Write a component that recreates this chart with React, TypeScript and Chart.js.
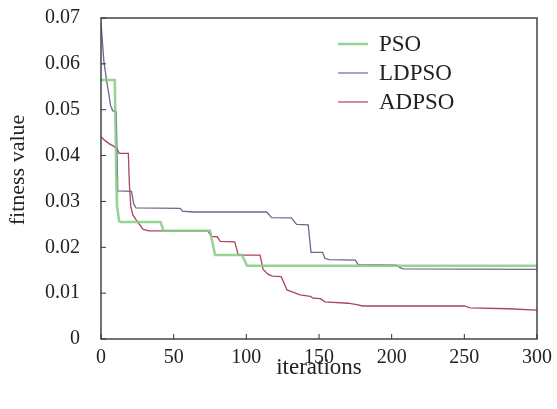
import React, { useEffect, useRef } from "react";
import { Chart, registerables } from "chart.js";

Chart.register(...registerables);

const xTicks = [0, 50, 100, 150, 200, 250, 300];
const yTicks = [0, 0.01, 0.02, 0.03, 0.04, 0.05, 0.06, 0.07];

const seriesNames = ["PSO", "LDPSO", "ADPSO"];

const psoIter = [0, 9.5, 10.5, 11, 12.5, 13.5, 41, 43, 75, 78.5, 97, 100.5, 300];
const psoFit = [0.0565, 0.0565, 0.035, 0.029, 0.0257, 0.0255, 0.0255, 0.0236, 0.0236, 0.0183, 0.0183, 0.016, 0.016];

const ldpsoIter = [0, 2, 4, 5.5, 6.5, 8, 10.5, 11.5, 21, 22.5, 24, 54.5, 56, 63, 114, 117.4, 131, 134.6, 142.6, 144.5, 152.5, 154, 157, 175, 177, 203.5, 206, 208, 300];
const ldpsoFit = [0.069, 0.0605, 0.056, 0.0532, 0.051, 0.0498, 0.0495, 0.0323, 0.0322, 0.0295, 0.0286, 0.0285, 0.0279, 0.0277, 0.0277, 0.02645, 0.0264, 0.025, 0.0249, 0.0189, 0.0189, 0.0176, 0.0173, 0.0172, 0.0162, 0.0161, 0.0155, 0.0153, 0.0152];

const adpsoIter = [0, 3, 6, 9, 11, 12.5, 18.8, 19.5, 20.5, 22, 25, 29, 33, 73.5, 76, 80, 82, 92, 94.5, 109.5, 111.5, 115, 118, 124, 128, 132, 137, 144, 146, 151, 154, 170, 176, 180, 250, 254, 280, 300];
const adpsoFit = [0.0441, 0.0432, 0.0425, 0.042, 0.0415, 0.0405, 0.0405, 0.034, 0.0288, 0.027, 0.0256, 0.0239, 0.0236, 0.0236, 0.0224, 0.0223, 0.0213, 0.0212, 0.0183, 0.0183, 0.0152, 0.0141, 0.0137, 0.0136, 0.0107, 0.0102, 0.0096, 0.0093, 0.0089, 0.0088, 0.0081, 0.0078, 0.0075, 0.0072, 0.0072, 0.0068, 0.0066, 0.0063];

const toPoints = (xs: number[], ys: number[]) => xs.map((x, i) => ({ x, y: ys[i] }));

const FONT = "'Liberation Serif', 'Times New Roman', serif";

const decorPlugin = {
  id: "decor",
  afterDatasetsDraw(chart: any) {
    const { ctx, chartArea: a, scales } = chart;
    ctx.save();
    ctx.strokeStyle = "#444";
    ctx.lineWidth = 1.5;
    ctx.strokeRect(a.left, a.top, a.right - a.left, a.bottom - a.top);
    ctx.lineWidth = 1;
    ctx.strokeStyle = "#333";
    scales.x.ticks.forEach((_t: any, i: number) => {
      const px = scales.x.getPixelForTick(i);
      ctx.beginPath();
      ctx.moveTo(px, a.bottom);
      ctx.lineTo(px, a.bottom - 5);
      ctx.stroke();
    });
    scales.y.ticks.forEach((_t: any, i: number) => {
      const py = scales.y.getPixelForTick(i);
      ctx.beginPath();
      ctx.moveTo(a.left, py);
      ctx.lineTo(a.left + 5, py);
      ctx.stroke();
    });
    const lx = a.left + 237;
    chart.data.datasets.forEach((ds: any, i: number) => {
      const ly = a.top + 26 + i * 29;
      ctx.strokeStyle = ds.borderColor;
      ctx.lineWidth = i === 0 ? 2.5 : 1.2;
      ctx.beginPath();
      ctx.moveTo(lx, ly);
      ctx.lineTo(lx + 30, ly);
      ctx.stroke();
      ctx.fillStyle = "#222";
      ctx.font = `23px ${FONT}`;
      ctx.textAlign = "left";
      ctx.textBaseline = "middle";
      ctx.fillText(ds.label, lx + 41, ly + 1);
    });
    ctx.fillStyle = "#222";
    ctx.font = `23px ${FONT}`;
    ctx.textAlign = "center";
    ctx.textBaseline = "middle";
    ctx.fillText("iterations", (a.left + a.right) / 2, a.bottom + 29);
    ctx.font = `22px ${FONT}`;
    ctx.translate(a.left - 83, a.top + 152);
    ctx.rotate(-Math.PI / 2);
    ctx.fillText("fitness value", 0, 0);
    ctx.restore();
  },
};

export default function App() {
  const ref = useRef<HTMLCanvasElement | null>(null);
  useEffect(() => {
    document.body.style.margin = "0";
    if (!ref.current) return;
    const chart = new Chart(ref.current, {
      type: "line",
      data: {
        datasets: [
          {
            label: seriesNames[0],
            data: toPoints(psoIter, psoFit),
            borderColor: "rgba(130,205,130,0.85)",
            borderWidth: 2.5,
            pointRadius: 0,
            tension: 0,
          },
          {
            label: seriesNames[1],
            data: toPoints(ldpsoIter, ldpsoFit),
            borderColor: "#6e6791",
            borderWidth: 1.3,
            pointRadius: 0,
            tension: 0,
          },
          {
            label: seriesNames[2],
            data: toPoints(adpsoIter, adpsoFit),
            borderColor: "#a8465e",
            borderWidth: 1.3,
            pointRadius: 0,
            tension: 0,
          },
        ],
      },
      options: {
        animation: false,
        responsive: false,
        layout: { padding: { left: 0, right: 20, top: 18, bottom: 0 } },
        plugins: { legend: { display: false }, tooltip: { enabled: false } },
        scales: {
          x: {
            type: "linear",
            min: 0,
            max: 300,
            afterBuildTicks: (s: any) => {
              s.ticks = xTicks.map((v) => ({ value: v }));
            },
            afterFit: (s: any) => {
              s.height = 70;
              s.paddingLeft = 0;
              s.paddingRight = 0;
            },
            grid: { display: false, drawTicks: false },
            border: { display: false },
            ticks: {
              padding: 7,
              color: "#222",
              font: { family: FONT, size: 20 },
              maxRotation: 0,
              callback: (v: any) => String(v),
            },
          },
          y: {
            type: "linear",
            min: 0,
            max: 0.07,
            afterBuildTicks: (s: any) => {
              s.ticks = yTicks.map((v) => ({ value: v }));
            },
            afterFit: (s: any) => {
              s.width = 101;
              s.paddingTop = 0;
              s.paddingBottom = 0;
            },
            grid: { display: false, drawTicks: false },
            border: { display: false },
            ticks: {
              padding: 21,
              color: "#222",
              font: { family: FONT, size: 20 },
              callback: (v: any) => (v === 0 ? "0" : Number(v).toFixed(2)),
            },
          },
        },
      },
      plugins: [decorPlugin],
    });
    return () => chart.destroy();
  }, []);
  return (
    <div style={{ width: 557, height: 409 }}>
      <canvas ref={ref} width={557} height={409} />
    </div>
  );
}
